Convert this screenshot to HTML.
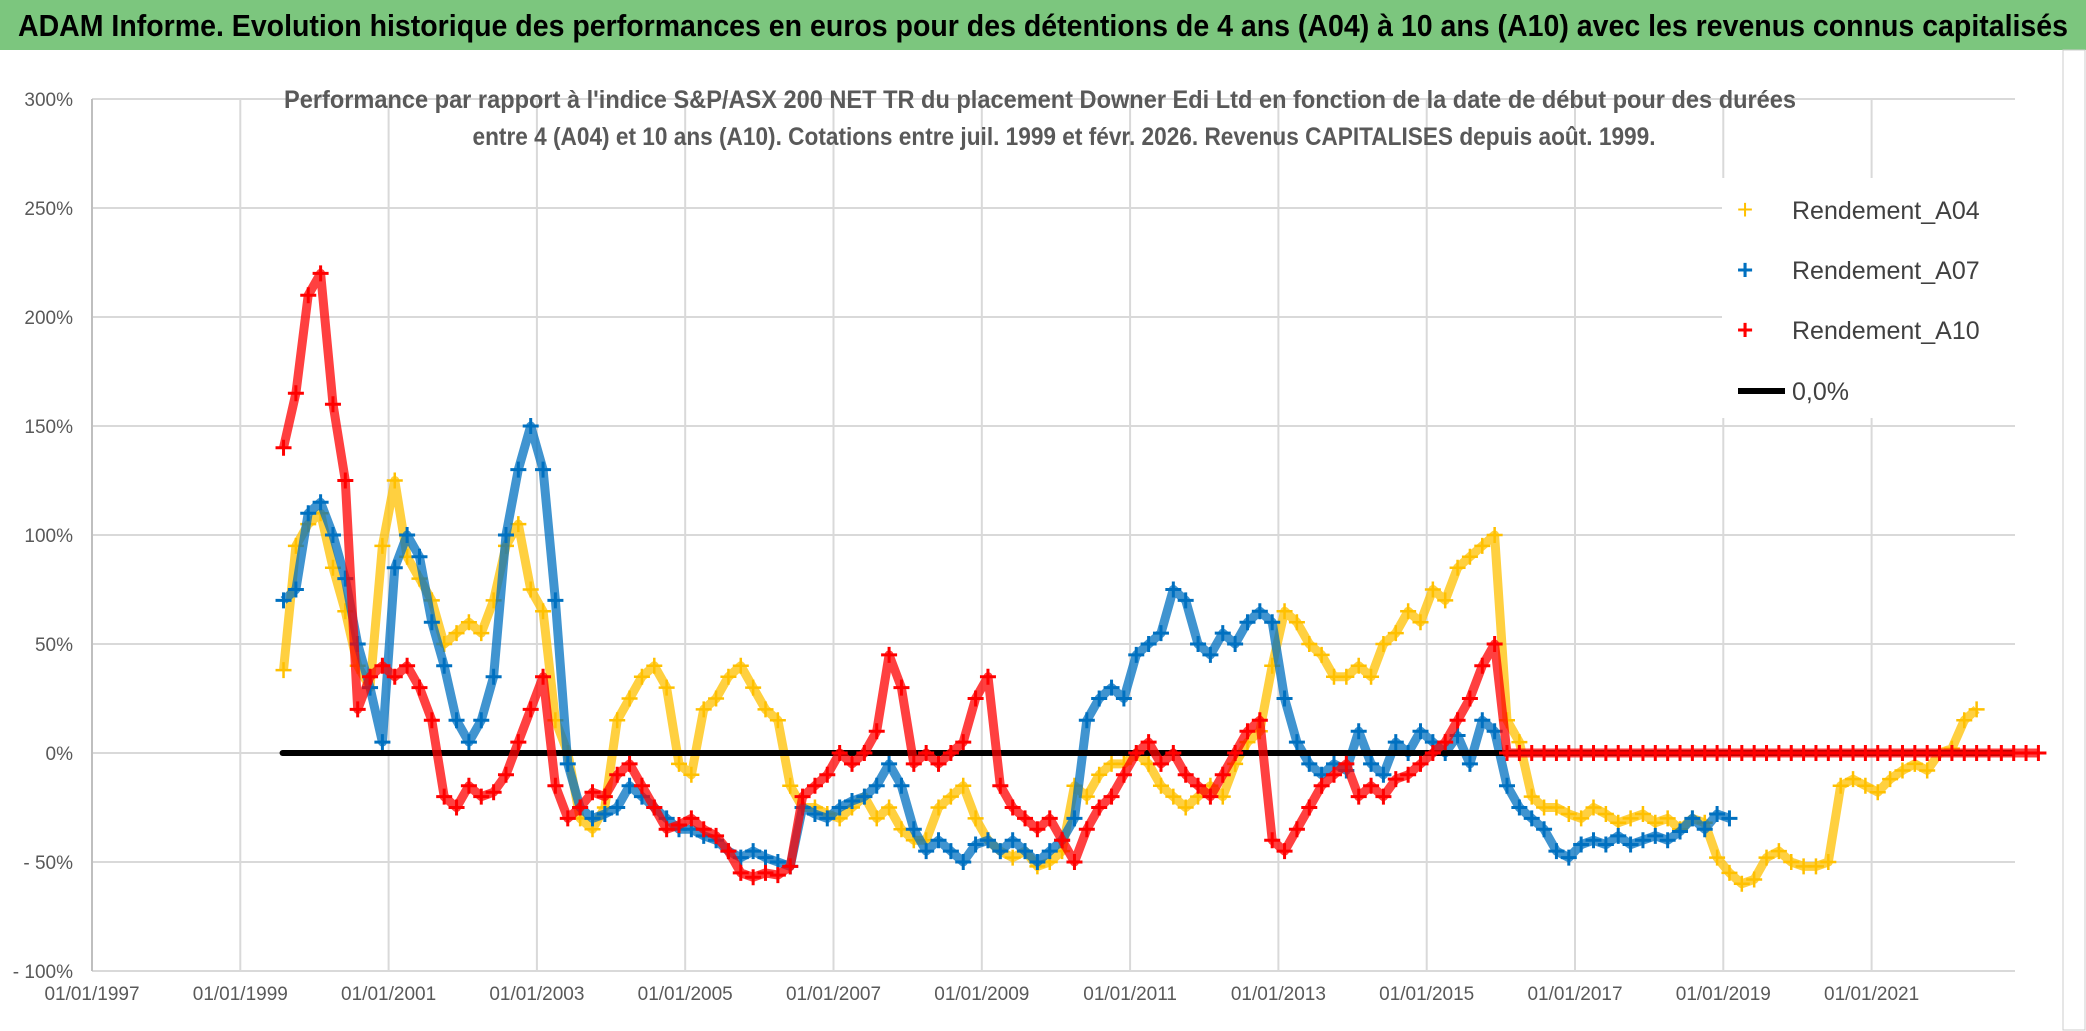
<!DOCTYPE html>
<html><head><meta charset="utf-8"><style>
html,body{margin:0;padding:0;background:#fff;}
svg{display:block;font-family:"Liberation Sans",sans-serif;}
</style></head><body>
<svg id="chart" width="2086" height="1031" viewBox="0 0 2086 1031">
<rect x="0" y="0" width="2086" height="1031" fill="#fff"/>
<rect x="0" y="0" width="2086" height="50" fill="#7CC67E"/>
<text x="1043" y="36" text-anchor="middle" font-size="31" font-weight="bold" fill="#000" textLength="2050" lengthAdjust="spacingAndGlyphs">ADAM Informe. Evolution historique des performances en euros pour des détentions de 4 ans (A04) à 10 ans (A10) avec les revenus connus capitalisés</text>
<rect x="2063" y="50" width="22" height="980" fill="none" stroke="#ccc" stroke-width="1"/>
<g id="grid"></g>
<text x="1040" y="108" text-anchor="middle" font-size="25" font-weight="bold" fill="#595959" textLength="1512" lengthAdjust="spacingAndGlyphs">Performance par rapport à l'indice S&amp;P/ASX 200 NET TR  du placement Downer Edi Ltd en fonction de la date de début pour des durées</text>
<text x="1064" y="145" text-anchor="middle" font-size="25" font-weight="bold" fill="#595959" textLength="1183" lengthAdjust="spacingAndGlyphs">entre 4 (A04) et 10 ans (A10). Cotations entre juil. 1999 et févr. 2026. Revenus CAPITALISES depuis août. 1999.</text>
<g id="series"></g>
<g id="legend">
<rect x="1722" y="178" width="300" height="240" fill="#fff"/>
<g><text x="1745" y="219" font-size="28" fill="#FFC000" text-anchor="middle">+</text><text x="1792" y="219" font-size="25" fill="#404040">Rendement_A04</text></g>
<g><text x="1745" y="279" font-size="28" fill="#0070C0" text-anchor="middle" font-weight="bold">+</text><text x="1792" y="279" font-size="25" fill="#404040">Rendement_A07</text></g>
<g><text x="1745" y="339" font-size="28" fill="#FF0000" text-anchor="middle" font-weight="bold">+</text><text x="1792" y="339" font-size="25" fill="#404040">Rendement_A10</text></g>
<g><line x1="1738" y1="391" x2="1785" y2="391" stroke="#000" stroke-width="6"/><text x="1792" y="400" font-size="25" fill="#404040">0,0%</text></g>
</g>
</svg>
<script>
const yTicks=[300,250,200,150,100,50,0,-50,-100];
const yTickLabels=["300%","250%","200%","150%","100%","50%","0%","- 50%","- 100%"];
const xTickYears=[1997,1999,2001,2003,2005,2007,2009,2011,2013,2015,2017,2019,2021];
const xTickLabels=["01/01/1997","01/01/1999","01/01/2001","01/01/2003","01/01/2005","01/01/2007","01/01/2009","01/01/2011","01/01/2013","01/01/2015","01/01/2017","01/01/2019","01/01/2021"];
const startA04=1999.583, startA07=1999.583, startA10=1999.583, stepYears=1/6;
const valuesA04=[38,95,105,110,85,65,40,30,95,125,90,80,70,50,55,60,55,70,95,105,75,65,15,0,-30,-35,-25,15,25,35,40,30,-5,-10,20,25,35,40,30,20,15,-15,-25,-25,-28,-30,-25,-20,-30,-25,-35,-40,-40,-25,-20,-15,-30,-40,-45,-48,-45,-52,-50,-45,-15,-20,-10,-5,-5,0,-5,-15,-20,-25,-20,-15,-20,-5,5,10,40,65,60,50,45,35,35,40,35,50,55,65,60,75,70,85,90,95,100,15,5,-20,-25,-25,-28,-30,-25,-28,-32,-30,-28,-32,-30,-35,-30,-32,-48,-55,-60,-58,-48,-45,-50,-52,-52,-50,-15,-12,-15,-18,-12,-8,-5,-8,0,2,15,20];
const valuesA07=[70,75,110,115,100,80,50,30,5,85,100,90,60,40,15,5,15,35,100,130,150,130,70,-5,-25,-30,-28,-25,-15,-20,-25,-30,-35,-35,-38,-40,-45,-48,-45,-48,-50,-52,-25,-28,-30,-25,-22,-20,-15,-5,-15,-35,-45,-40,-45,-50,-42,-40,-45,-40,-45,-50,-45,-40,-30,15,25,30,25,45,50,55,75,70,50,45,55,50,60,65,60,25,5,-5,-10,-5,-8,10,-5,-10,5,0,10,5,0,8,-5,15,10,-15,-25,-30,-35,-45,-48,-42,-40,-42,-38,-42,-40,-38,-40,-36,-30,-35,-28,-30];
const valuesA10=[140,165,210,220,160,125,20,35,40,35,40,30,15,-20,-25,-15,-20,-18,-10,5,20,35,-15,-30,-25,-18,-20,-10,-5,-15,-25,-35,-33,-30,-35,-38,-45,-55,-57,-55,-56,-52,-20,-15,-10,0,-5,0,10,45,30,-5,0,-5,0,5,25,35,-15,-25,-30,-35,-30,-40,-50,-35,-25,-20,-10,0,5,-5,0,-10,-15,-20,-10,0,10,15,-40,-45,-35,-25,-15,-10,-5,-20,-15,-20,-12,-10,-5,0,5,15,25,40,50,0,0,0,0,0,0,0,0,0,0,0,0,0,0,0,0,0,0,0,0,0,0,0,0,0,0,0,0,0,0,0,0,0,0,0,0,0,0,0,0,0,0,0,0];
const zeroLineRange=[1999.57,2022.9];

const NS="http://www.w3.org/2000/svg";
const PL=92,PR=2015,Y0=753,PX_PER_PCT=109/50,PX_PER_YEAR=74.15;
function xScale(yr){return PL+(yr-1997)*PX_PER_YEAR;}
function yScale(v){return Y0-v*PX_PER_PCT;}
function mk(tag,attrs,parent){const e=document.createElementNS(NS,tag);for(const k in attrs)e.setAttribute(k,attrs[k]);parent.appendChild(e);return e;}
const grid=document.getElementById('grid');
yTicks.forEach((t,i)=>{
  const y=yScale(t);
  const l=mk('line',{x1:PL,x2:PR,y1:y,y2:y,stroke:'#d9d9d9','stroke-width':2},grid);
  
  
  const tx=mk('text',{x:73,y:y+7,'text-anchor':'end','font-size':19,fill:'#595959'},grid);
  tx.textContent=yTickLabels[i];
  
  
});
xTickYears.forEach((yr,i)=>{
  const x=xScale(yr);
  const l=mk('line',{x1:x,x2:x,y1:yScale(300),y2:yScale(-100),stroke:i===0?'#bfbfbf':'#d9d9d9','stroke-width':2},grid);
  
  
  const tx=mk('text',{x:x,y:1000,'text-anchor':'middle','font-size':19,fill:'#595959'},grid);
  tx.textContent=xTickLabels[i];
  
  
});
const series=document.getElementById('series');
function drawSeries(vals,start,color,name,sw){
  const g=mk('g',{},series);
  
  
  const pts=vals.map((v,i)=>xScale(start+i*stepYears).toFixed(1)+','+yScale(v).toFixed(1)).join(' ');
  const pl=mk('polyline',{points:pts,fill:'none',stroke:color,'stroke-width':9,'stroke-linejoin':'round','stroke-opacity':0.75},g);
  
  
  vals.forEach((v,i)=>{
    const x=xScale(start+i*stepYears),y=yScale(v);
    const p=mk('path',{d:`M${x-8},${y}H${x+8}M${x},${y-8}V${y+8}`,stroke:color,'stroke-width':sw,fill:'none'},g);
    
    
  });
}
drawSeries(valuesA04,startA04,'#FFC000','series-a04',2.5);
drawSeries(valuesA07,startA07,'#0070C0','series-a07',3);
const zl=mk('line',{x1:xScale(zeroLineRange[0]),x2:xScale(zeroLineRange[1]),y1:yScale(0),y2:yScale(0),stroke:'#000','stroke-width':6,'stroke-linecap':'round'},series);


drawSeries(valuesA10,startA10,'#FF0000','series-a10',3);
</script>
</body></html>
